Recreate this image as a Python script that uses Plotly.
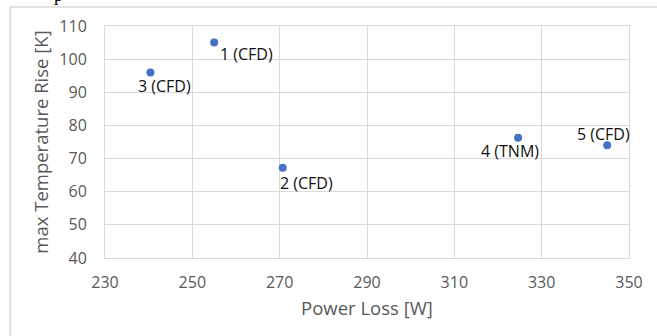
import plotly.graph_objects as go

power_loss = [255, 270.7, 240.4, 324.6, 345]
temp_rise = [105, 67.2, 96, 76.3, 74]
labels = ["1 (CFD)", "2 (CFD)", "3 (CFD)", "4 (TNM)", "5 (CFD)"]
x_ticks = [230, 250, 270, 290, 310, 330, 350]
y_ticks = [40, 50, 60, 70, 80, 90, 100, 110]

# label offsets in pixels (style only)
label_dx = [32, 24, 14, -8, -4]
label_dy = [-11, -15, -14, -13, 11]

fig = go.Figure()
fig.add_trace(go.Scatter(
    x=power_loss, y=temp_rise, mode="markers",
    marker=dict(size=8, color="#4472C4"),
    cliponaxis=False, showlegend=False, hoverinfo="x+y",
))

for x, y, t, dx, dy in zip(power_loss, temp_rise, labels, label_dx, label_dy):
    fig.add_annotation(x=x, y=y, text=t, showarrow=False,
                       xshift=dx, yshift=dy, xanchor="center", yanchor="middle",
                       font=dict(family="Open Sans, sans-serif", size=16, color="#111111"))

fig.add_shape(type="rect", xref="paper", yref="paper",
              x0=-0.181, x1=1.1, y0=-0.7, y1=1.082,
              line=dict(color="#d9d9d9", width=1.5), layer="below")

# fragment of the cropped page text above the chart
fig.add_annotation(xref="paper", yref="paper", x=(58 - 105) / 524, y=(258 - 7) / 232,
                   text="p", showarrow=False, xanchor="center", yanchor="bottom",
                   font=dict(family="Liberation Serif, serif", size=18, color="black"))

fig.update_layout(
    width=657, height=336,
    margin=dict(l=105, r=28, t=26, b=78),
    paper_bgcolor="white", plot_bgcolor="white",
    font=dict(family="Open Sans, sans-serif", color="#595959"),
    xaxis=dict(range=[230, 350], tickvals=x_ticks, showgrid=True, automargin=False,
               gridcolor="#d9d9d9", gridwidth=1, zeroline=False,
               showline=True, linecolor="#d9d9d9", mirror=True,
               tickfont=dict(size=16, color="#595959"), ticks="", ticklabelstandoff=10,
               title=dict(text="Power Loss [W]", font=dict(size=18.5, color="#595959"), standoff=9)),
    yaxis=dict(range=[40, 110], tickvals=y_ticks, showgrid=True, automargin=False,
               gridcolor="#d9d9d9", gridwidth=1, zeroline=False,
               showline=True, linecolor="#d9d9d9", mirror=True,
               tickfont=dict(size=16, color="#595959"), ticks="", ticklabelstandoff=14,
               title=dict(text="max Temperature Rise [K]", font=dict(size=18.5, color="#595959"), standoff=5)),
)

fig.write_html("out.html", config={"displayModeBar": False},
               post_script="document.body.style.margin='0';")
